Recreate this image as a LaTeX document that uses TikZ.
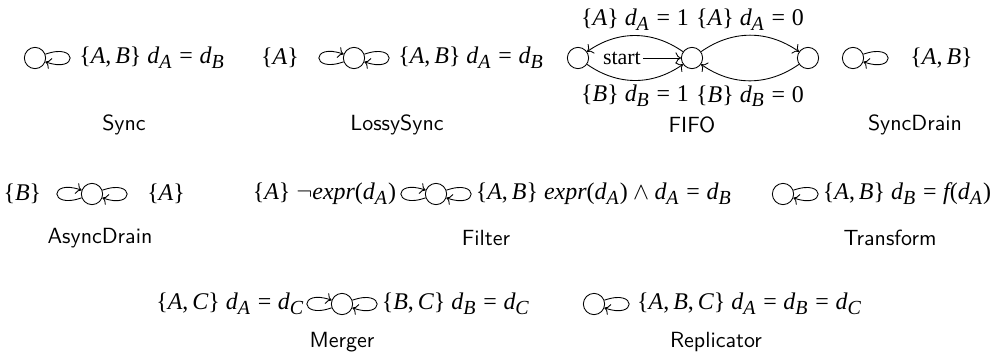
\documentclass[tikz,border=0pt]{standalone}
\usepackage[no-math]{fontspec}
\setmainfont{Liberation Serif}
\usepackage[italic]{mathastext}
\usetikzlibrary{arrows.meta, positioning}
\tikzset{
  chan/.style={circle, draw, minimum size=3.4mm, inner sep=0pt},
  loopr/.style={->, out=20, in=-20, distance=5.6mm},
  loopl/.style={->, out=200, in=160, distance=5.6mm},
  lbl/.style={inner sep=1pt, font=\fontsize{10.9}{13}\selectfont},
  capt/.style={font=\sffamily},
}
\begin{document}
\begin{tikzpicture}[x=0.016cm, y=0.016cm]
\useasboundingbox (0,0) rectangle (1000,-360);

% row 1
\node[chan] (sy) at (35,-58) {};
\draw[loopr] (sy) to node[lbl, right=3pt] {$\{A,B\}\ d_A=d_B$} (sy);
\node[capt] (csy) at (124,-125) {Sync};

\node[chan] (ls) at (354,-58) {};
\draw[loopl] (ls) to node[lbl, left=8pt] {$\{A\}$} (ls);
\draw[loopr] (ls) to node[lbl, right=3pt] {$\{A,B\}\ d_A=d_B$} (ls);
\node[capt] (cls) at (397,-125) {LossySync};

\node[chan] (f0) at (578,-58) {};
\node[chan] (f1) at (692,-58) {};
\node[chan] (f2) at (808,-58) {};
\node[inner sep=1pt, left=6mm of f1] (st) {start};
\draw[->] (st) -- (f1);
\draw[->] (f1) to[bend right=35] node[lbl, above=1pt] {$\{A\}\ d_A=1$} (f0);
\draw[->] (f0) to[bend right=35] node[lbl, below=1pt] {$\{B\}\ d_B=1$} (f1);
\draw[->] (f1) to[bend left=35] node[lbl, above=1pt] {$\{A\}\ d_A=0$} (f2);
\draw[->] (f2) to[bend left=35] node[lbl, below=1pt] {$\{B\}\ d_B=0$} (f1);
\node[capt] (cff) at (692,-125) {FIFO};

\node[chan] (sd) at (853,-58) {};
\draw[loopr] (sd) to node[lbl, right=9pt] {$\{A,B\}$} (sd);
\node[capt] (csd) at (915,-125) {SyncDrain};

% row 2
\node[chan] (ad) at (92,-194) {};
\draw[loopl] (ad) to node[lbl, left=6pt] {$\{B\}$} (ad);
\draw[loopr] (ad) to node[lbl, right=8pt] {$\{A\}$} (ad);
\node[capt] (cad) at (100,-238) {AsyncDrain};

\node[chan] (fi) at (436,-194) {};
\draw[loopl] (fi) to node[lbl, left=1pt] {$\{A\}\ \neg expr(d_A)$} (fi);
\draw[loopr] (fi) to node[lbl, right=1pt] {$\{A,B\}\ expr(d_A)\wedge d_A=d_B$} (fi);
\node[capt] (cfi) at (486,-238) {Filter};

\node[chan] (tr) at (783,-194) {};
\draw[loopr] (tr) to node[lbl, right=1pt] {$\{A,B\}\ d_B=f(d_A)$} (tr);
\node[capt] (ctr) at (890,-238) {Transform};

% row 3
\node[chan] (mg) at (342,-304) {};
\draw[loopl] (mg) to node[lbl, left=0pt] {$\{A,C\}\ d_A=d_C$} (mg);
\draw[loopr] (mg) to node[lbl, right=1pt] {$\{B,C\}\ d_B=d_C$} (mg);
\node[capt] (cmg) at (342,-342) {Merger};

\node[chan] (rp) at (594,-304) {};
\draw[loopr] (rp) to node[lbl, right=2.5pt] {$\{A,B,C\}\ d_A=d_B=d_C$} (rp);
\node[capt] (crp) at (716,-342) {Replicator};
\end{tikzpicture}
\end{document}
